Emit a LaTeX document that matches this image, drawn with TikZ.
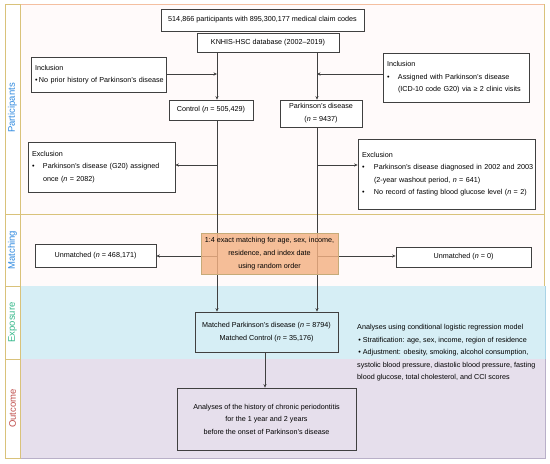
\documentclass[tikz,border=0pt]{standalone}
\usepackage{fontspec}
\setmainfont{Liberation Sans}
\usetikzlibrary{arrows.meta}
\definecolor{lnc}{HTML}{404040}
\definecolor{gold}{HTML}{D9C27A}
\definecolor{salm}{HTML}{F4BFA0}
\definecolor{pinkbg}{HTML}{FFFAFA}
\definecolor{bluebg}{HTML}{D6EEF5}
\definecolor{blueln}{HTML}{A9D3E6}
\definecolor{purbg}{HTML}{E6DFEC}
\definecolor{purln}{HTML}{B9B0C8}
\definecolor{matchfill}{HTML}{F4B183}
\definecolor{matchln}{HTML}{C6AA78}
\definecolor{labblue}{HTML}{2F8AE0}
\definecolor{labgreen}{HTML}{35B88A}
\definecolor{labred}{HTML}{C0504D}
\newcommand{\blt}[1]{\makebox[#1][l]{•}}
\newcommand{\oneline}[1]{\mbox{#1}}
\begin{document}
\begin{tikzpicture}[x=1pt,y=-1pt,
  font=\fontsize{7.2}{12.5}\selectfont,
  box/.style={draw=lnc, line width=0.8pt, fill=white, inner sep=0pt, align=center},
  lbox/.style={box, align=left, inner xsep=4pt},
  conn/.style={draw=lnc, line width=0.8pt},
  arr/.style={conn, -{Stealth[length=3.5pt,width=3.2pt]}},
  lab/.style={rotate=90, font=\fontsize{9.5}{11}\selectfont},
  cell/.style={draw=gold, line width=0.8pt, fill=white}]
\useasboundingbox (0,0) rectangle (550,464);
% bands
\fill[pinkbg] (5,4) rectangle (544,286);
\draw[gold, line width=0.8pt] (5,4) rectangle (544,214);
\draw[salm, line width=0.8pt] (5,4) -- (544,4);
\draw[gold, line width=0.8pt] (5,214) rectangle (544,286);
\fill[bluebg] (20,286) rectangle (545,359);
\draw[blueln, line width=0.6pt] (545,286) -- (545,359) -- (20,359);
\fill[purbg] (20,359) rectangle (545,458);
\draw[purln, line width=0.8pt] (20,458) -- (545,458) -- (545,359);
\draw[cell] (5,4) rectangle (20,214);
\draw[cell] (5,214) rectangle (20,286);
\draw[cell] (5,286) rectangle (20,359);
\draw[cell] (5,359) rectangle (20,458);
\node[lab, text=labblue] (lp) at (12.5,108) {Participants};
\node[lab, text=labblue] (lm) at (12.5,250) {Matching};
\node[lab, text=labgreen] (le) at (12.5,322.5) {Exposure};
\node[lab, text=labred] (lo) at (12.5,408.5) {Outcome};
% helper coordinates
\coordinate (cx) at (217,0);
\coordinate (px) at (317,0);
\coordinate (ox) at (265,0);
\coordinate (y74) at (0,74);
\coordinate (y165) at (0,165);
\coordinate (y256) at (0,256);
% nodes
\node[box, minimum width=203pt, minimum height=22pt] (top) at (262.5,20) {514,866 participants with 895,300,177 medical claim codes};
\node[box, minimum width=142pt, minimum height=19pt] (db) at (268,42.5) {KNHIS-HSC database (2002–2019)};
\node[lbox, minimum width=135pt, minimum height=35pt, text width=127pt] (incL) at (98.5,74.5) {\oneline{Inclusion}\\\oneline{\blt{4pt}No prior history of Parkinson’s disease}};
\node[box, minimum width=84pt, minimum height=20pt] (ctrl) at (211,110) {Control (\textit{n} = 505,429)};
\node[lbox, minimum width=146pt, minimum height=49pt, text width=138pt] (incR) at (456,77.5) {\oneline{Inclusion}\\\oneline{\blt{11pt}Assigned with Parkinson’s disease}\\\oneline{\hspace*{11pt}(ICD-10 code G20) via\,\,≥ 2 clinic visits}};
\node[box, minimum width=82pt, minimum height=27pt, font=\fontsize{7.2}{13}\selectfont] (pd) at (321,113.5) {Parkinson’s disease\\(\textit{n} = 9437)};
\node[lbox, minimum width=147pt, minimum height=50pt, text width=139pt] (excL) at (101.5,167) {\oneline{Exclusion}\\\oneline{\blt{11pt}Parkinson’s disease (G20) assigned}\\\oneline{\hspace*{11pt}once (\textit{n} = 2082)}};
\node[lbox, minimum width=177pt, minimum height=70pt, text width=169pt] (excR) at (446.5,174) {\oneline{Exclusion}\\\oneline{\blt{12pt}Parkinson’s disease diagnosed in 2002 and 2003}\\\oneline{\hspace*{12pt}(2-year washout period, \textit{n} = 641)}\\\oneline{\blt{12pt}No record of fasting blood glucose level (\textit{n} = 2)}};
\node[box, minimum width=121pt, minimum height=23pt] (unL) at (95.5,255.5) {Unmatched (\textit{n} = 468,171)};
\node[box, minimum width=135pt, minimum height=20pt] (unR) at (463.5,257) {Unmatched (\textit{n} = 0)};
\node[box, fill=bluebg, minimum width=143pt, minimum height=40pt] (matched) at (266.5,332) {Matched Parkinson’s disease (\textit{n} = 8794)\\Matched Control (\textit{n} = 35,176)};
\node[box, fill=purbg, minimum width=179pt, minimum height=62pt] (outc) at (266.5,419) {Analyses of the history of chronic periodontitis\\for the 1 year and 2 years\\before the onset of Parkinson’s disease};
\node[anchor=north west, inner sep=0pt, align=left] (ana) at (357,324.5) {Analyses using conditional logistic regression model\\
\,• Stratification: age, sex, income, region of residence\\
\,• Adjustment: obesity, smoking, alcohol consumption,\\
systolic blood pressure, diastolic blood pressure, fasting\\
blood glucose, total cholesterol, and CCI scores};
% connectors
\draw[arr] (db.south -| cx) -- (ctrl.north -| cx);
\draw[arr] (db.south -| px) -- (pd.north -| px);
\draw[arr] (incL.east |- y74) -- (cx |- y74);
\draw[arr] (incR.west |- y74) -- (px |- y74);
\draw[arr] (cx |- y165) -- (excL.east |- y165);
\draw[arr] (px |- y165) -- (excR.west |- y165);
\draw[arr] (ctrl.south -| cx) -- (matched.north -| cx);
\draw[arr] (pd.south -| px) -- (matched.north -| px);
\draw[arr] (cx |- y256) -- (unL.east |- y256);
\draw[arr] (px |- y256) -- (unR.west |- y256);
\draw[arr] (matched.south -| ox) -- (outc.north -| ox);
% matching box over the lines
\node[box, draw=matchln, fill=matchfill, fill opacity=0.82, text opacity=1, minimum width=137pt, minimum height=41pt, font=\fontsize{7.2}{13}\selectfont] (match) at (269.5,254) {1:4 exact matching for age, sex, income,\\residence, and index date\\using random order};
\end{tikzpicture}
\end{document}
